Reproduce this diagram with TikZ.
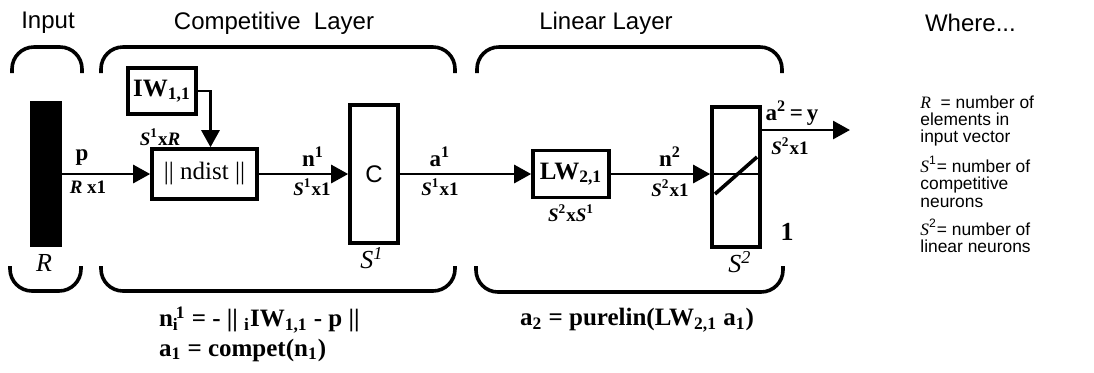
\documentclass[tikz,border=0pt]{standalone}
\usepackage{fontspec}
\setmainfont{Liberation Sans}
\newfontfamily\tms{Liberation Serif}
\usetikzlibrary{arrows.meta}
\newcommand{\ssz}[1]{\textit{S}\textsuperscript{#1}}

\begin{document}
\begin{tikzpicture}[x=0.5pt,y=-0.5pt,
  blk/.style={draw,line width=1.8pt,inner sep=0pt},
  sig/.style={line width=1.4pt,-{Triangle[length=8.5pt,width=9pt]}},
  brk/.style={line width=1.8pt,rounded corners=11pt},
  hdr/.style={font=\fontsize{12}{14}\selectfont},
  lbl/.style={font=\tms\bfseries\fontsize{11.5}{12}\selectfont},
  dim/.style={font=\tms\bfseries\fontsize{9.5}{10}\selectfont},
  big/.style={font=\tms\itshape\fontsize{13}{14}\selectfont},
  eqn/.style={font=\tms\bfseries\fontsize{12.5}{14}\selectfont,anchor=west},
  leg/.style={font=\fontsize{8.7}{8.7}\selectfont,align=left,anchor=north west,inner sep=0pt}]
\useasboundingbox (0,0) rectangle (1094,372);

\node[hdr] (tin) at (48,23) {Input};
\node[hdr] (tcomp) at (274,23) {Competitive\ \ Layer};
\node[hdr] (tlin) at (606,23) {Linear Layer};
\node[hdr,anchor=west] (twhere) at (918,23) {Where...};

\draw[brk] (12,73) -- (12,47) -- (82,47) -- (82,73);
\draw[brk] (101,73) -- (101,47) -- (455,47) -- (455,73);
\draw[brk] (477,73) -- (477,47) -- (782,47) -- (782,73);
\draw[brk] (10,266) -- (10,291) -- (81,291) -- (81,266);
\draw[brk] (101,266) -- (101,291) -- (455,291) -- (455,266);
\draw[brk] (476,266) -- (476,292) -- (783,292) -- (783,266);

\node[blk,fill=black,minimum width=14pt,minimum height=71pt] (inp) at (46,174) {};
\node[blk,font=\tms\bfseries\fontsize{12.5}{14}\selectfont,minimum width=34pt,minimum height=23pt] (iw) at (162,91) {IW\textsubscript{1,1}};
\node[blk,font=\tms\fontsize{12.5}{14}\selectfont,minimum width=52.5pt,minimum height=25pt] (nd) at (204.5,174) {|| ndist ||};
\node[blk,hdr,minimum width=24pt,minimum height=69pt] (cmp) at (374,174) {C};
\node[blk,font=\tms\bfseries\fontsize{12.5}{14}\selectfont,minimum width=38pt,minimum height=23.5pt] (lw) at (571,174) {LW\textsubscript{2,1}};
\node[blk,minimum width=24pt,minimum height=70pt] (pl) at (736,177) {};
\coordinate (out) at (850,130);

\draw[sig] (inp.east) -- (nd.west);
\draw[sig] (iw.east) -| ([xshift=3pt]nd.north);
\draw[sig] (nd.east) -- (cmp.west);
\draw[sig] (cmp.east) -- (lw.west);
\draw[sig] (lw.east) -- (lw.east -| pl.west);
\draw[sig] (pl.east |- out) -- (out);
\draw[line width=1.4pt] (pl.west |- lw.east) -- (pl.east |- lw.east);
\draw[line width=1.8pt] (715,194) -- (757,157);

\node[lbl] (lp) at (82,158) {p};
\node[dim] (dp) at (88,187) {\textit{R} x1};
\node[dim] (diw) at (160,137) {\ssz{1}x\textit{R}};
\node[lbl] (ln1) at (313,157) {n\textsuperscript{1}};
\node[dim] (dn1) at (312,187) {\ssz{1}x1};
\node[lbl] (la1) at (440,157) {a\textsuperscript{1}};
\node[dim] (da1) at (440,187) {\ssz{1}x1};
\node[dim] (dlw) at (571,213) {\ssz{2}x\ssz{1}};
\node[lbl] (ln2) at (670,157) {n\textsuperscript{2}};
\node[dim] (dn2) at (670,188) {\ssz{2}x1};
\node[lbl] (la2) at (792,113) {a\textsuperscript{2}\,=\,y};
\node[dim] (da2) at (790,146) {\ssz{2}x1};
\node[font=\tms\bfseries\fontsize{13}{14}\selectfont] (one) at (787,232) {1};
\node[big] (lr) at (44,263) {R};
\node[big] (ls1) at (372,258) {S\textsuperscript{1}};
\node[big] (ls2) at (740,262) {S\textsuperscript{2}};

\node[eqn] (eq1) at (152,320) {n\rlap{\textsubscript{i}}\textsuperscript{\,1} = - || \textsubscript{i}IW\textsubscript{1,1} - p ||};
\node[eqn] (eq2) at (152,350) {a\textsubscript{1} = compet(n\textsubscript{1})};
\node[eqn,anchor=center] (eq3) at (637,320) {a\textsubscript{2} = purelin(LW\textsubscript{2,1} a\textsubscript{1})};

\node[leg] (legr) at (920,95) {{\tms\itshape R}\ \ = number of\\elements in\\input vector};
\node[leg] (legs1) at (920,156) {{\tms\itshape S}\textsuperscript{1}= number of\\competitive\\neurons};
\node[leg] (legs2) at (920,219) {{\tms\itshape S}\textsuperscript{2}= number of\\linear neurons};
\end{tikzpicture}
\end{document}
